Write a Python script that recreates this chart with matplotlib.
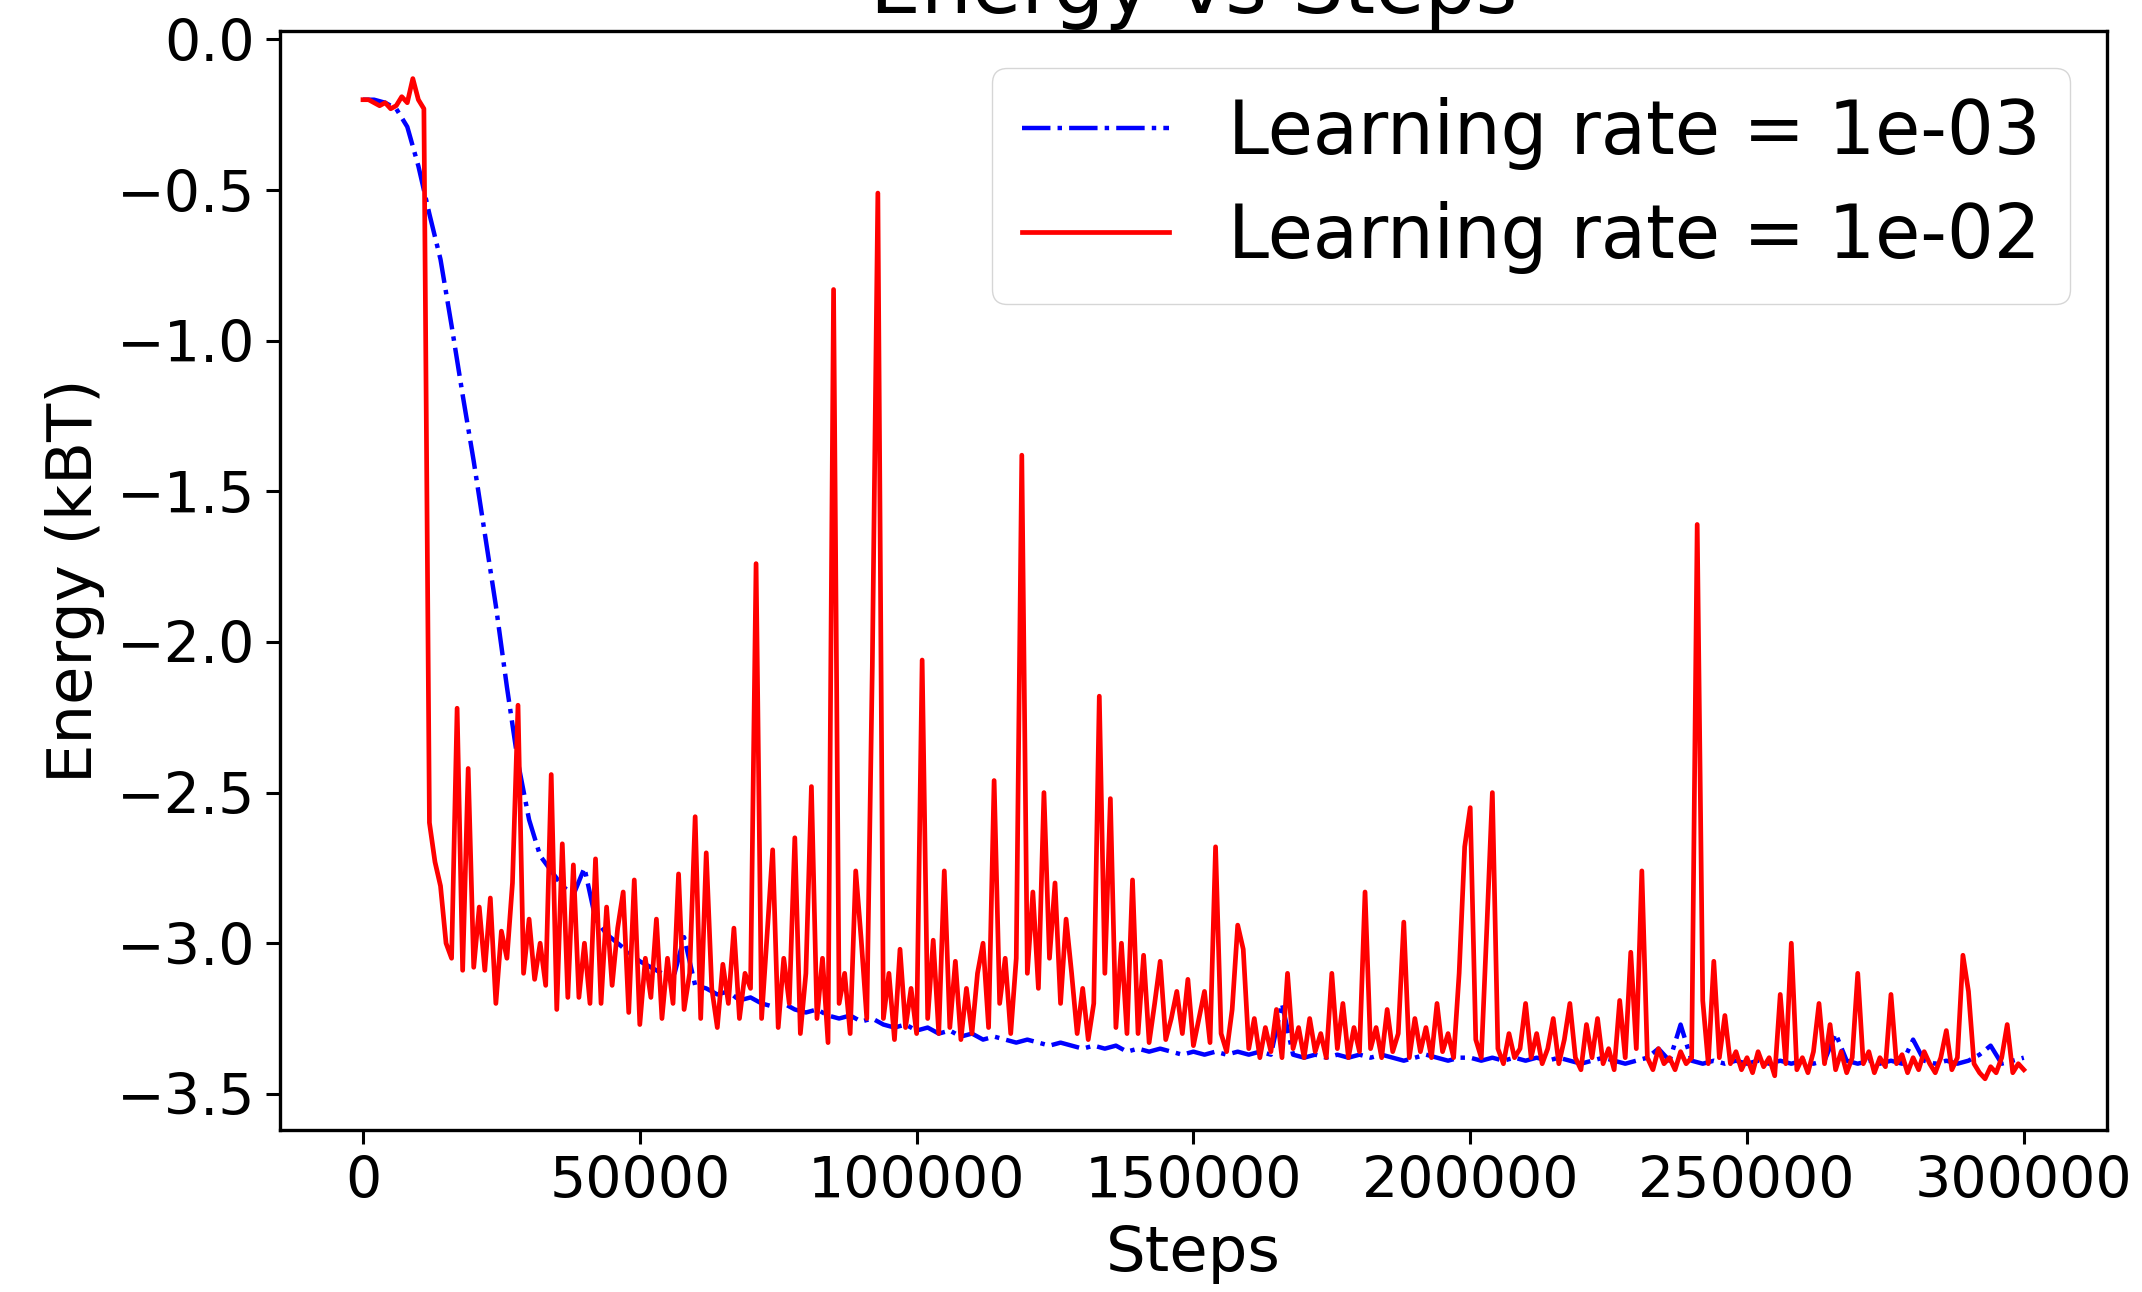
import numpy as np
import matplotlib
matplotlib.use("Agg")
import matplotlib.pyplot as plt

# energy per training step, red run sampled every 1000 steps
steps_fast = np.arange(0, 300001, 1000)
energy_fast = [
    -0.20, -0.20, -0.21, -0.22, -0.21, -0.23, -0.22, -0.19, -0.21, -0.13,
    -0.20, -0.23, -2.60, -2.73, -2.81, -3.00, -3.05, -2.22, -3.09, -2.42,
    -3.08, -2.88, -3.09, -2.85, -3.20, -2.96, -3.05, -2.80, -2.21, -3.10,
    -2.92, -3.12, -3.00, -3.14, -2.44, -3.22, -2.67, -3.18, -2.74, -3.18,
    -3.00, -3.20, -2.72, -3.20, -2.88, -3.14, -2.95, -2.83, -3.23, -2.79,
    -3.27, -3.05, -3.18, -2.92, -3.25, -3.05, -3.20, -2.77, -3.22, -3.10,
    -2.58, -3.25, -2.70, -3.15, -3.28, -3.07, -3.20, -2.95, -3.25, -3.10,
    -3.15, -1.74, -3.25, -2.97, -2.69, -3.28, -3.05, -3.20, -2.65, -3.30,
    -3.10, -2.48, -3.25, -3.05, -3.33, -0.83, -3.20, -3.10, -3.30, -2.76,
    -2.99, -3.25, -2.08, -0.51, -3.25, -3.10, -3.32, -3.02, -3.28, -3.15,
    -3.30, -2.06, -3.25, -2.99, -3.30, -2.76, -3.28, -3.06, -3.32, -3.15,
    -3.30, -3.10, -3.00, -3.28, -2.46, -3.20, -3.05, -3.30, -3.05, -1.38,
    -3.10, -2.83, -3.15, -2.50, -3.05, -2.80, -3.20, -2.92, -3.10, -3.30,
    -3.15, -3.32, -3.20, -2.18, -3.10, -2.52, -3.28, -3.00, -3.30, -2.79,
    -3.30, -3.04, -3.33, -3.20, -3.06, -3.32, -3.25, -3.16, -3.30, -3.12,
    -3.34, -3.25, -3.16, -3.33, -2.68, -3.30, -3.36, -3.22, -2.94, -3.02,
    -3.35, -3.25, -3.38, -3.28, -3.36, -3.22, -3.38, -3.10, -3.35, -3.28,
    -3.38, -3.25, -3.36, -3.30, -3.38, -3.10, -3.35, -3.20, -3.38, -3.28,
    -3.36, -2.83, -3.35, -3.28, -3.38, -3.22, -3.36, -3.30, -2.93, -3.38,
    -3.25, -3.36, -3.28, -3.38, -3.20, -3.36, -3.30, -3.38, -3.10, -2.68,
    -2.55, -3.32, -3.38, -2.95, -2.50, -3.35, -3.40, -3.30, -3.38, -3.35,
    -3.20, -3.38, -3.30, -3.40, -3.35, -3.25, -3.40, -3.32, -3.20, -3.38,
    -3.42, -3.27, -3.38, -3.25, -3.40, -3.35, -3.42, -3.19, -3.38, -3.03,
    -3.35, -2.76, -3.38, -3.42, -3.35, -3.40, -3.38, -3.42, -3.36, -3.40,
    -3.38, -1.61, -3.19, -3.40, -3.06, -3.38, -3.24, -3.40, -3.36, -3.42,
    -3.38, -3.43, -3.36, -3.41, -3.38, -3.44, -3.17, -3.40, -3.00, -3.42,
    -3.38, -3.43, -3.36, -3.20, -3.40, -3.27, -3.42, -3.36, -3.43, -3.38,
    -3.10, -3.40, -3.36, -3.43, -3.38, -3.41, -3.17, -3.40, -3.37, -3.43,
    -3.38, -3.42, -3.36, -3.40, -3.43, -3.38, -3.29, -3.42, -3.38, -3.04,
    -3.16, -3.40, -3.43, -3.45, -3.41, -3.43, -3.38, -3.27, -3.43, -3.40,
    -3.42,
]

# blue run sampled every 2000 steps
steps_slow = np.arange(0, 300001, 2000)
energy_slow = [
    -0.20, -0.20, -0.21, -0.23, -0.29, -0.42, -0.58, -0.73, -0.95, -1.18,
    -1.40, -1.64, -1.88, -2.15, -2.40, -2.59, -2.71, -2.76, -2.81, -2.84,
    -2.75, -2.92, -2.97, -3.00, -3.03, -3.06, -3.08, -3.10, -3.12, -2.98,
    -3.14, -3.15, -3.17, -3.16, -3.19, -3.18, -3.20, -3.21, -3.20, -3.22,
    -3.23, -3.22, -3.24, -3.25, -3.24, -3.26, -3.25, -3.27, -3.28, -3.27,
    -3.29, -3.28, -3.30, -3.29, -3.31, -3.30, -3.32, -3.31, -3.32, -3.33,
    -3.32, -3.33, -3.34, -3.33, -3.34, -3.35, -3.34, -3.35, -3.34, -3.36,
    -3.35, -3.36, -3.35, -3.36, -3.37, -3.36, -3.37, -3.36, -3.37, -3.36,
    -3.37, -3.36, -3.37, -3.20, -3.37, -3.38, -3.37, -3.38, -3.37, -3.38,
    -3.37, -3.38, -3.37, -3.38, -3.39, -3.38, -3.37, -3.38, -3.39, -3.38,
    -3.38, -3.39, -3.38, -3.39, -3.38, -3.39, -3.38, -3.39, -3.38, -3.39,
    -3.40, -3.39, -3.38, -3.39, -3.40, -3.39, -3.38, -3.35, -3.39, -3.27,
    -3.39, -3.40, -3.39, -3.40, -3.39, -3.40, -3.39, -3.40, -3.39, -3.40,
    -3.39, -3.40, -3.39, -3.30, -3.39, -3.40, -3.39, -3.40, -3.39, -3.40,
    -3.32, -3.39, -3.40, -3.39, -3.40, -3.39, -3.37, -3.34, -3.40, -3.39,
    -3.38,
]

labels = ["Learning rate = 1e-03", "Learning rate = 1e-02"]

fig = plt.figure(figsize=(21.42, 12.92), dpi=100)
ax = fig.add_axes([0.1307, 0.1254, 0.8529, 0.8506])

ax.plot(steps_slow, energy_slow, color="blue", linestyle="-.", lw=3.2, label=labels[0])
ax.plot(steps_fast, energy_fast, color="red", linestyle="-", lw=3.4, label=labels[1])

ax.set_xlim(-15000, 315000)
ax.set_ylim(-3.62, 0.028)
ax.set_xticks([0, 50000, 100000, 150000, 200000, 250000, 300000])
ax.set_yticks([0.0, -0.5, -1.0, -1.5, -2.0, -2.5, -3.0, -3.5])

ax.set_title("Energy vs Steps", fontsize=58, pad=13)
ax.set_xlabel("Steps", fontsize=45, labelpad=10)
ax.set_ylabel("Energy (kBT)", fontsize=45, labelpad=8)
ax.tick_params(labelsize=41, length=10, width=2.2, pad=8)
for sp in ax.spines.values():
    sp.set_linewidth(2.4)

ax.legend(fontsize=53, labelspacing=0.42)

fig.savefig("out.png", dpi=100)
